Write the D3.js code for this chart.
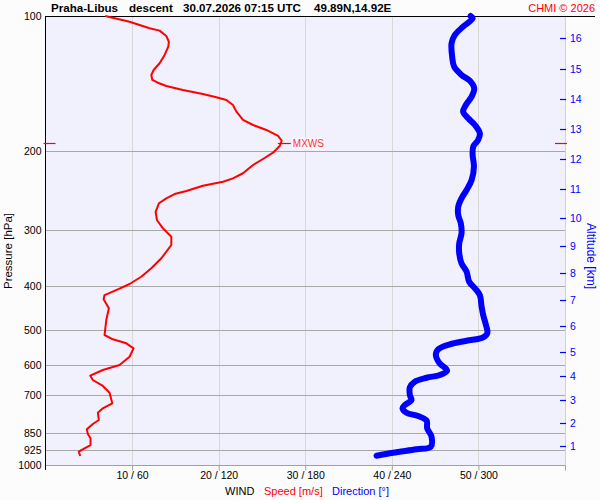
<!DOCTYPE html>
<html><head><meta charset="utf-8">
<script src="https://cdn.jsdelivr.net/npm/d3@7"></script>
<style>
html,body{margin:0;padding:0;background:#fcfcfc;}
svg{display:block;font-family:"Liberation Sans",Arial,sans-serif;}
</style></head>
<body>
<svg id="c" width="600" height="500"></svg>
<script>
// ---- data ----
const pressureTicks = [100,200,300,400,500,600,700,850,925,1000];
const windTicks = [10,20,30,40,50];
const windTickLabels = ["10 / 60","20 / 120","30 / 180","40 / 240","50 / 300"];
const altitudeKm = [1,2,3,4,5,6,7,8,9,10,11,12,13,14,15,16];
const altitudePressure = [907,807,716.5,633.6,561,490,429,374,324.8,281.4,242.8,208.5,178.2,153.3,131.4,112.1];
const speedPressure = [100,103.0,106.5,107.8,110.8,114.1,117.0,122.1,127.4,131.9,135.3,138.8,140.8,143.2,146.2,149.2,151.7,153.8,157.8,163.3,170.4,174.9,179.4,185.0,189.6,194.8,201.6,208.2,214.7,224.0,229.9,233.9,238.8,245.4,249.2,254.7,261.3,272.9,284.7,297.1,310.1,323.6,346.4,364.7,380.8,395.3,406.2,418.3,427.6,447.7,475.5,513.4,524.8,535.8,549.7,573.9,598.9,614.4,632.6,646.7,666.8,690.2,728.8,747.7,764.8,794.0,810.4,832.7,853.1,872.0,902.6,918.0,934.1,955.0];
const speed = [6.9,9.71,12.02,13.18,13.95,14.25,14.18,13.76,13.18,12.49,12.22,12.34,12.98,13.95,15.87,18.18,19.73,20.89,21.65,22.05,22.81,23.97,25.51,26.86,27.28,27.05,26.28,25.12,23.97,22.81,21.65,20.5,18.18,16.27,14.91,13.95,13.1,12.72,12.87,13.56,14.53,14.53,13.38,12.22,11.06,9.71,8.36,6.82,6.71,7.32,7.02,6.82,7.78,9.33,10.17,9.71,8.55,6.62,5.17,5.47,6.62,7.4,7.71,6.62,6.05,6.16,5.47,4.77,4.89,5.2,5.2,4.51,3.85,4.01];
const dirPressure = [100,101.2,105.6,110.2,115.0,123.2,129.7,135.3,139.4,144.9,151.2,157.8,163.3,169.0,174.9,182.5,188.9,195.5,204.0,216.6,231.9,244.1,254.7,265.9,277.5,289.5,304.8,320.8,337.7,355.5,371.1,390.7,404.2,418.3,444.0,463.4,487.6,508.2,519.5,528.7,538.5,552.5,568.9,591.9,616.6,630.4,639.2,652.4,671.4,698.5,716.6,735.2,747.7,764.8,778.0,796.8,828.5,865.0,910.5,922.6,938.8,953.5];
const direction = [294.6,296.0,289.4,283.7,281.4,281.8,283.2,288.3,294.1,297.1,295.3,291.3,289.4,292.9,297.6,301.0,299.8,296.4,296.0,296.9,295.3,291.8,288.3,286.0,286.0,287.8,288.3,286.7,286.7,288.3,291.8,293.6,297.6,301.0,302.2,303.3,305.2,306.2,303.3,291.8,280.2,272.1,270.5,272.8,278.3,273.3,264.1,255.9,252.5,252.5,253.6,249.0,247.4,250.2,258.2,264.1,264.5,267.5,267.0,257.1,240.9,229.4];
const mxwsPressure = 192;
const mxwsSpeed = 27.3;

// ---- drawing ----
const FONT = "Liberation Sans, Arial, sans-serif";
const svg = d3.select("#c");
const L = 45.5, R = 565, T = 16, B = 465;
const y = d3.scaleLog().domain([100,1000]).range([T,B]);
const xs = d3.scaleLinear().domain([0,60]).range([L,R]);
const xd = d3.scaleLinear().domain([0,360]).range([L,R]);

svg.append("rect").attr("x",L).attr("y",T).attr("width",R-L).attr("height",B-T).attr("fill","#f1f1fd");

// vertical grid
svg.append("g").selectAll("line").data(windTicks).join("line")
  .attr("x1",d=>Math.round(xs(d))+0.5).attr("x2",d=>Math.round(xs(d))+0.5).attr("y1",T).attr("y2",B)
  .attr("stroke","#d8d8d8").attr("stroke-width",1);
// horizontal grid
svg.append("g").selectAll("line").data(pressureTicks.filter(p=>p>100 && p<1000)).join("line")
  .attr("x1",L).attr("x2",R).attr("y1",d=>Math.round(y(d))+0.5).attr("y2",d=>Math.round(y(d))+0.5)
  .attr("stroke","#a8a8a8").attr("stroke-width",1);

// right border
svg.append("line").attr("x1",R+0.5).attr("x2",R+0.5).attr("y1",T).attr("y2",B+5).attr("stroke","#d0d0d8");

// bottom axis
const xAxis = d3.axisBottom(xs).tickValues([10,20,30,40,50,60]).tickSize(5)
  .tickFormat((d,i)=> i<windTickLabels.length ? windTickLabels[i] : "");
const gx = svg.append("g").attr("transform",`translate(0,${B+0.5})`).call(xAxis);
gx.select(".domain").attr("stroke","#a0a0a0").attr("d",`M${L},0H${R}`);
gx.selectAll(".tick line").attr("stroke","#a0a0a0");
gx.selectAll(".tick text").attr("font-size",10.5).attr("fill","#000").attr("y",6).attr("dy","0.71em")
  .attr("font-family",FONT);

// left axis
const yAxis = d3.axisLeft(y).tickValues(pressureTicks).tickSize(0).tickPadding(4).tickFormat(d3.format("d"));
const gy = svg.append("g").attr("transform",`translate(${L},0)`).call(yAxis);
gy.select(".domain").attr("stroke","#000").attr("d",`M0,${T}V${B+5}`);
gy.selectAll(".tick text").attr("font-size",10.5).attr("fill","#000").attr("font-family",FONT);

// top line
svg.append("line").attr("x1",L).attr("x2",595).attr("y1",T+0.5).attr("y2",T+0.5).attr("stroke","#000");

// altitude axis
const ga = svg.append("g");
altitudeKm.forEach((k,i)=>{
  const yy = Math.round(y(altitudePressure[i]))+0.5;
  ga.append("line").attr("x1",R-5).attr("x2",R+1).attr("y1",yy).attr("y2",yy).attr("stroke","#0000ff").attr("stroke-width",1.2);
  ga.append("text").attr("x",R+5).attr("y",yy).attr("dy","0.35em").attr("font-size",10.5).attr("fill","#0000ff").text(k);
});
svg.append("text").attr("transform","translate(587,256) rotate(90)").attr("text-anchor","middle")
  .attr("font-size",12).attr("fill","#0000ff").text("Altitude [km]");
svg.append("text").attr("transform","translate(12,251) rotate(-90)").attr("text-anchor","middle")
  .attr("font-size",11.5).attr("fill","#000").text("Pressure [hPa]");

// lines
const lineS = d3.line().x((d,i)=>xs(speed[i])).y((d,i)=>y(speedPressure[i]));
svg.append("path").attr("d",lineS(speed)).attr("fill","none").attr("stroke","#ff0000").attr("stroke-width",2).attr("stroke-linejoin","round");
const lineD = d3.line().x((d,i)=>xd(direction[i])).y((d,i)=>y(dirPressure[i])).curve(d3.curveCatmullRom);
svg.append("path").attr("d",lineD(direction)).attr("fill","none").attr("stroke","#0000ff").attr("stroke-width",6).attr("stroke-linejoin","round").attr("stroke-linecap","round");

// MXWS markers
const my = Math.round(y(mxwsPressure))+0.5;
svg.append("line").attr("x1",L-2).attr("x2",L+10).attr("y1",my).attr("y2",my).attr("stroke","#ff0000").attr("stroke-width",1.2);
svg.append("line").attr("x1",R-10).attr("x2",R+2).attr("y1",my).attr("y2",my).attr("stroke","#ff0000").attr("stroke-width",1.2);
svg.append("line").attr("x1",xs(mxwsSpeed)-4).attr("x2",xs(mxwsSpeed)+9).attr("y1",my).attr("y2",my).attr("stroke","#ff0000").attr("stroke-width",1.2);
svg.append("rect").attr("x",xs(mxwsSpeed)+10).attr("y",my-6).attr("width",31).attr("height",12).attr("fill","#f8f8fe");
svg.append("text").attr("x",xs(mxwsSpeed)+11).attr("y",my).attr("dy","0.35em").attr("font-size",10).attr("fill","#ff3030").text("MXWS");

// title
const tt = svg.append("g").attr("font-size",11.6).attr("font-weight","bold").attr("fill","#000");
[["Praha-Libus",51],["descent",129],["30.07.2026 07:15 UTC",183],["49.89N,14.92E",314]].forEach(([t,x])=>{
  tt.append("text").attr("x",x).attr("y",12).text(t);
});
svg.append("text").attr("x",595).attr("y",12).attr("text-anchor","end").attr("font-size",11).attr("fill","#ff0000").text("CHMI © 2026");

// bottom legend
const lg = svg.append("g").attr("font-size",11);
lg.append("text").attr("x",225).attr("y",491).attr("dy","0.35em").attr("fill","#000").text("WIND");
lg.append("text").attr("x",264).attr("y",491).attr("dy","0.35em").attr("fill","#ff0000").text("Speed [m/s]");
lg.append("text").attr("x",332).attr("y",491).attr("dy","0.35em").attr("fill","#0000ff").text("Direction [°]");
</script>
</body></html>
